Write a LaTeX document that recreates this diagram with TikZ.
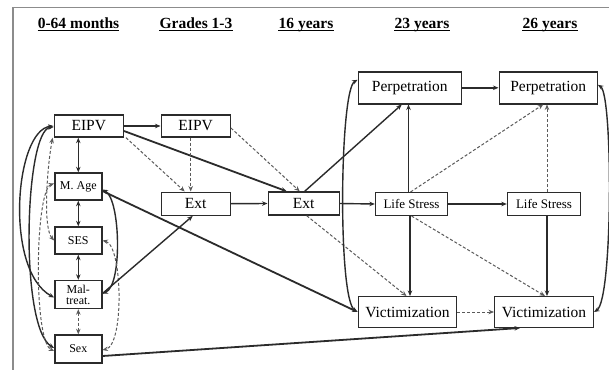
\documentclass[tikz,border=0pt]{standalone}
\usepackage{fontspec}
\setmainfont{Liberation Serif}
\usetikzlibrary{arrows.meta,calc}

\definecolor{ink}{HTML}{2B2B2B}
\definecolor{framegray}{HTML}{8C8C8C}
\definecolor{dashgray}{HTML}{5A5A5A}

\tikzset{
  box/.style={draw=ink, line width=1.4pt, inner sep=0pt, text=black, fill=white},
  bigbox/.style={box, font=\fontsize{15.5}{17}\selectfont},
  lsbox/.style={box, font=\fontsize{13}{15}\selectfont, minimum height=22.6pt},
  smallbox/.style={box, minimum width=47pt, minimum height=27pt,
    font=\fontsize{12}{11}\selectfont, align=center},
  header/.style={inner sep=0pt, anchor=base, font=\bfseries\fontsize{15.5}{17}\selectfont},
  headrule/.style={draw=black, line width=1.1pt},
  tip/.tip={Stealth[length=5.5pt,width=4.5pt]},
  link/.style={draw=ink, line width=1.4pt, -tip},
  blink/.style={draw=ink, line width=1.4pt, tip-tip},
  dlink/.style={draw=dashgray, line width=1pt, dash pattern=on 3pt off 2pt, -tip},
  bdlink/.style={draw=dashgray, line width=1pt, dash pattern=on 3pt off 2pt, tip-tip},
}

\begin{document}
\begin{tikzpicture}[x=1pt,y=-1pt]
\useasboundingbox (0,0) rectangle (609,369);
\fill[white] (0,0) rectangle (609,369);

% frame
\draw[framegray, line width=1.5pt] (13,375) -- (13,7.5) -- (615,7.5);

% time headers
\node[header] (h1) at (78.5,28.3) {0-64 months};
\node[header] (h2) at (196,28.3) {Grades 1-3};
\node[header] (h3) at (306,28.3) {16 years};
\node[header] (h4) at (422,28.3) {23 years};
\node[header] (h5) at (550,28.3) {26 years};
\foreach \h in {h1,h2,h3,h4,h5}
  \draw[headrule] ([yshift=-2.4pt]\h.base west) -- ([yshift=-2.4pt]\h.base east);

% variables
\node[bigbox, minimum width=69pt, minimum height=22pt] (eipvA) at (88.8,126) {EIPV};
\node[bigbox, minimum width=69pt, minimum height=22pt] (eipvB) at (195.7,126) {EIPV};
\node[smallbox] (mage) at (78.3,186.5) {M. Age};
\node[smallbox] (ses) at (78.3,240.5) {SES};
\node[smallbox, minimum height=28pt] (mal) at (78.3,294.5) {Mal-\\treat.};
\node[smallbox, minimum height=28pt] (sex) at (78.3,349) {Sex};
\node[bigbox, minimum width=69pt, minimum height=23pt] (extA) at (195.7,203.7) {Ext};
\node[bigbox, minimum width=71pt, minimum height=23pt] (extB) at (303.7,203.5) {Ext};
\node[bigbox, minimum width=103pt, minimum height=32pt] (perpA) at (409.8,87.8) {Perpetration};
\node[bigbox, minimum width=98pt, minimum height=32pt] (perpB) at (548.2,87.8) {Perpetration};
\node[lsbox, minimum width=72pt] (lsA) at (411.5,204) {Life Stress};
\node[lsbox, minimum width=73pt] (lsB) at (544,204) {Life Stress};
\node[bigbox, minimum width=98.4pt, minimum height=30.6pt] (victA) at (407.5,312) {Victimization};
\node[bigbox, minimum width=98.6pt, minimum height=30.6pt] (victB) at (544,312) {Victimization};

% covariances among the early variables
\draw[blink] (mage.north |- eipvA.south) -- (mage.north);
\draw[blink] (mage.south) -- (ses.north);
\draw[blink] (ses.south) -- (mal.north);
\draw[bdlink] (mal.south) -- (sex.north);
\draw[blink] (eipvA.west) .. controls +(-39,4) and +(-50,-27) .. ([yshift=-3pt]mal.west);
\draw[blink] ([yshift=-1pt]eipvA.west) .. controls +(-29,3) and +(-35,-21) .. ([yshift=1pt]sex.west);
\draw[bdlink] ([xshift=-1pt]eipvA.south west) .. controls +(-6,33) and +(-11,-12.5) .. (ses.west);
\draw[bdlink] ([yshift=3pt]mage.west) .. controls +(-19,6.5) and +(-21,-10) .. ([yshift=-2pt]sex.west);
\draw[blink] ([yshift=-3pt]mage.east) .. controls +(18,10) and +(20,-8) .. ([yshift=1pt]mal.east);
\draw[bdlink] (ses.east) .. controls +(20,5) and +(22,-5) .. ([yshift=-1pt]sex.east);

% paths to middle childhood and adolescence
\draw[link] (eipvA.east) -- (eipvB.west);
\draw[link, line width=1.8pt] ([yshift=-5pt]eipvA.east) -- ([xshift=-17pt]extB.north);
\draw[dlink] ([xshift=2pt]eipvA.south east) -- ([xshift=-11pt]extA.north);
\draw[dlink] ([xshift=-5pt]eipvB.south) -- ([xshift=-5pt]extA.north);
\draw[dlink] ([yshift=-2pt]eipvB.east) -- ([xshift=-4pt]extB.north);
\draw[link] (extA.east) -- (extB.west);
\draw[link] ([yshift=1pt]mal.east) -- ([xshift=-3pt]extA.south);

% paths to adulthood
\draw[link] (extB.east) -- (lsA.west);
\draw[link] ([xshift=1pt]extB.north) -- ([xshift=-8pt]perpA.south);
\draw[dlink] ([xshift=3pt]extB.south) -- ([xshift=-1pt]victA.north);
\draw[link, line width=1.8pt] ([yshift=-4.5pt]mage.east) -- (victA.west);
\draw[link, line width=1.8pt] ([yshift=-7pt]sex.east) -- ([xshift=-24pt]victB.south);

\draw[link] (perpA.east) -- (perpB.west);
\draw[link] ([xshift=-3pt]lsA.north) -- ([xshift=-3pt]lsA.north |- perpA.south);
\draw[link] ([xshift=-1.5pt]lsA.south) -- ([xshift=-1.5pt]lsA.south |- victA.north);
\draw[link] (lsA.east) -- (lsB.west);
\draw[dlink] ([xshift=-1pt]lsA.north) -- ([xshift=-5pt]perpB.south);
\draw[dlink] (lsA.south) -- ([xshift=1pt]victB.north);
\draw[dlink] ([xshift=3pt]lsB.north) -- ([xshift=3pt]lsB.north |- perpB.south);
\draw[link] ([xshift=3pt]lsB.south) -- ([xshift=3pt]lsB.south |- victB.north);
\draw[dlink] (victA.east) -- (victB.west);

% within-wave covariances
\draw[blink] ([yshift=8pt]perpA.west) .. controls +(-18,10) and +(-20,-12) .. (victA.west);
\draw[blink] ([yshift=3pt]perpB.east) .. controls +(15,10) and +(19,-12) .. (victB.east);
\end{tikzpicture}
\end{document}
